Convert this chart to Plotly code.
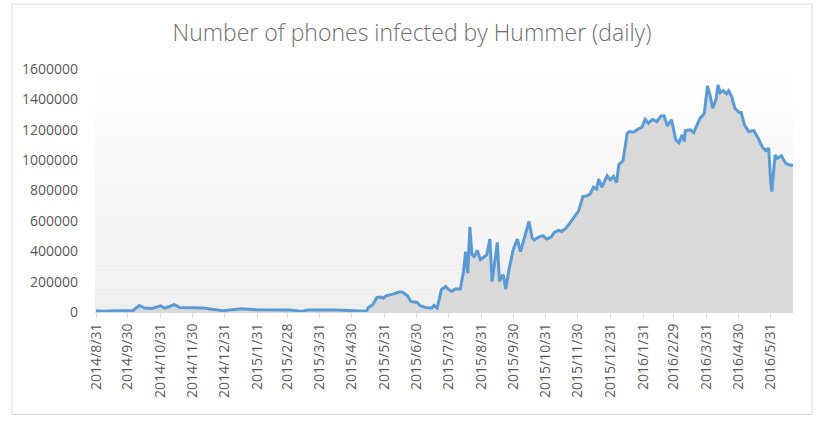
import pandas as pd
import plotly.graph_objects as go

TITLE = "Number of phones infected by Hummer (daily)"

dates = [
    "2014-08-31", "2014-09-06", "2014-09-19", "2014-10-05", "2014-10-11", "2014-10-16", "2014-10-23", "2014-10-31", "2014-11-04", "2014-11-13",
    "2014-11-18", "2014-11-28", "2014-12-10", "2014-12-29", "2015-01-16", "2015-01-30", "2015-03-03", "2015-03-14", "2015-03-19", "2015-04-16",
    "2015-05-05", "2015-05-14", "2015-05-16", "2015-05-20", "2015-05-24", "2015-05-27", "2015-05-30", "2015-06-02", "2015-06-08", "2015-06-14",
    "2015-06-17", "2015-06-20", "2015-06-22", "2015-06-25", "2015-07-01", "2015-07-04", "2015-07-09", "2015-07-15", "2015-07-17", "2015-07-20",
    "2015-07-24", "2015-07-28", "2015-07-31", "2015-08-03", "2015-08-06", "2015-08-11", "2015-08-14", "2015-08-16", "2015-08-18", "2015-08-20",
    "2015-08-22", "2015-08-24", "2015-08-27", "2015-08-30", "2015-09-03", "2015-09-05", "2015-09-08", "2015-09-10", "2015-09-12", "2015-09-15",
    "2015-09-17", "2015-09-20", "2015-09-21", "2015-09-23", "2015-09-26", "2015-09-30", "2015-10-04", "2015-10-07", "2015-10-11", "2015-10-15",
    "2015-10-18", "2015-10-20", "2015-10-24", "2015-10-28", "2015-11-01", "2015-11-05", "2015-11-08", "2015-11-12", "2015-11-15", "2015-11-19",
    "2015-11-23", "2015-11-26", "2015-12-01", "2015-12-05", "2015-12-09", "2015-12-12", "2015-12-15", "2015-12-18", "2015-12-20", "2015-12-23",
    "2015-12-28", "2015-12-31", "2016-01-03", "2016-01-06", "2016-01-08", "2016-01-12", "2016-01-16", "2016-01-18", "2016-01-22", "2016-01-26",
    "2016-01-30", "2016-02-02", "2016-02-05", "2016-02-09", "2016-02-13", "2016-02-17", "2016-02-20", "2016-02-23", "2016-02-27", "2016-03-02",
    "2016-03-05", "2016-03-08", "2016-03-10", "2016-03-11", "2016-03-16", "2016-03-19", "2016-03-22", "2016-03-25", "2016-03-27", "2016-03-29",
    "2016-04-01", "2016-04-03", "2016-04-06", "2016-04-09", "2016-04-11", "2016-04-13", "2016-04-16", "2016-04-19", "2016-04-21", "2016-04-24",
    "2016-04-27", "2016-05-01", "2016-05-03", "2016-05-06", "2016-05-10", "2016-05-15", "2016-05-19", "2016-05-23", "2016-05-26", "2016-05-29",
    "2016-05-31", "2016-06-01", "2016-06-04", "2016-06-06", "2016-06-10", "2016-06-14", "2016-06-17", "2016-06-21",
]

infected = [
    8000, 5000, 9000, 10000, 43000, 26000, 23000, 41000, 26000, 48000,
    30000, 26000, 26000, 9000, 21000, 15000, 13000, 4000, 13000, 13000,
    7000, 5000, 30000, 48000, 96000, 99000, 92000, 107000, 118000, 131000,
    131000, 114000, 107000, 70000, 63000, 41000, 30000, 26000, 43000, 26000,
    147000, 168000, 147000, 135000, 151000, 151000, 267000, 398000, 256000, 559000,
    377000, 366000, 405000, 344000, 366000, 377000, 480000, 201000, 300000, 458000,
    201000, 245000, 234000, 151000, 278000, 410000, 480000, 398000, 497000, 596000,
    487000, 475000, 493000, 502000, 480000, 493000, 524000, 537000, 530000, 552000,
    589000, 618000, 666000, 760000, 765000, 778000, 822000, 809000, 875000, 822000,
    898000, 870000, 893000, 852000, 969000, 997000, 1177000, 1188000, 1184000, 1203000,
    1217000, 1269000, 1243000, 1269000, 1253000, 1291000, 1291000, 1225000, 1265000, 1133000,
    1115000, 1166000, 1122000, 1194000, 1199000, 1181000, 1232000, 1276000, 1291000, 1309000,
    1488000, 1440000, 1342000, 1396000, 1495000, 1444000, 1457000, 1436000, 1457000, 1418000,
    1342000, 1313000, 1313000, 1232000, 1188000, 1194000, 1144000, 1085000, 1063000, 1078000,
    848000, 793000, 1034000, 1012000, 1028000, 980000, 969000, 964000,
]

x_tick_labels = [
    "2014/8/31", "2014/9/30", "2014/10/31", "2014/11/30", "2014/12/31", "2015/1/31",
    "2015/2/28", "2015/3/31", "2015/4/30", "2015/5/31", "2015/6/30", "2015/7/31",
    "2015/8/31", "2015/9/30", "2015/10/31", "2015/11/30", "2015/12/31", "2016/1/31",
    "2016/2/29", "2016/3/31", "2016/4/30", "2016/5/31",
]
y_tick_values = [0, 200000, 400000, 600000, 800000, 1000000, 1200000, 1400000, 1600000]

assert len(dates) == len(infected)

x_tick_dates = [pd.to_datetime(s, format="%Y/%m/%d") for s in x_tick_labels]

FONT = "Open Sans, Noto Sans, sans-serif"
TEXT = "#595959"

fig = go.Figure()
fig.add_trace(go.Scatter(
    x=pd.to_datetime(dates), y=infected,
    mode="lines",
    line=dict(color="#5b9bd5", width=3),
    fill="tozeroy", fillcolor="#d9d9d9",
    showlegend=False, hoverinfo="x+y",
))

# gradient plot-area background (white at top to light gray at bottom)
shapes = []
n = 60
for i in range(n):
    t = i / n
    c = int(round(0xEF + (0xFF - 0xEF) * t))
    shapes.append(dict(
        type="rect", xref="x domain", yref="y domain",
        x0=0, x1=1, y0=t, y1=(i + 1) / n,
        fillcolor=f"rgb({c},{c},{c})", line=dict(width=0), layer="below",
    ))
# outer chart border
shapes.append(dict(
    type="rect", xref="paper", yref="paper",
    x0=-0.1189, x1=1.0272, y0=-0.4215, y1=1.267,
    line=dict(color="#d9d9d9", width=1), fillcolor="rgba(0,0,0,0)", layer="above",
))

fig.update_layout(
    width=824, height=421,
    margin=dict(l=95, r=31, t=69, b=109),
    paper_bgcolor="white", plot_bgcolor="white",
    title=dict(text=TITLE, x=0.5, xref="container", xanchor="center",
               y=1 - 33 / 421, yref="container", yanchor="middle",
               font=dict(family=FONT, size=23, color="#6f6f6f", weight=300)),
    font=dict(family=FONT, size=14, color=TEXT),
    shapes=shapes,
    xaxis=dict(
        type="date",
        range=["2014-08-30", "2016-06-21"],
        tickvals=x_tick_dates, ticktext=x_tick_labels, tickangle=-90,
        showgrid=False, zeroline=False,
        showline=True, linecolor="#d9d9d9", linewidth=1,
        ticks="outside", ticklen=5, tickcolor="#d9d9d9",
        tickfont=dict(family=FONT, size=14, color=TEXT),
    ),
    yaxis=dict(
        range=[0, 1600000],
        tickvals=y_tick_values, tickformat="d",
        showgrid=False, zeroline=False, showline=False, ticks="",
        ticklabelstandoff=16,
        tickfont=dict(family=FONT, size=14, color=TEXT),
    ),
)

fig.write_html("out.html", config={"displayModeBar": False},
               post_script="document.body.style.margin='0';")
